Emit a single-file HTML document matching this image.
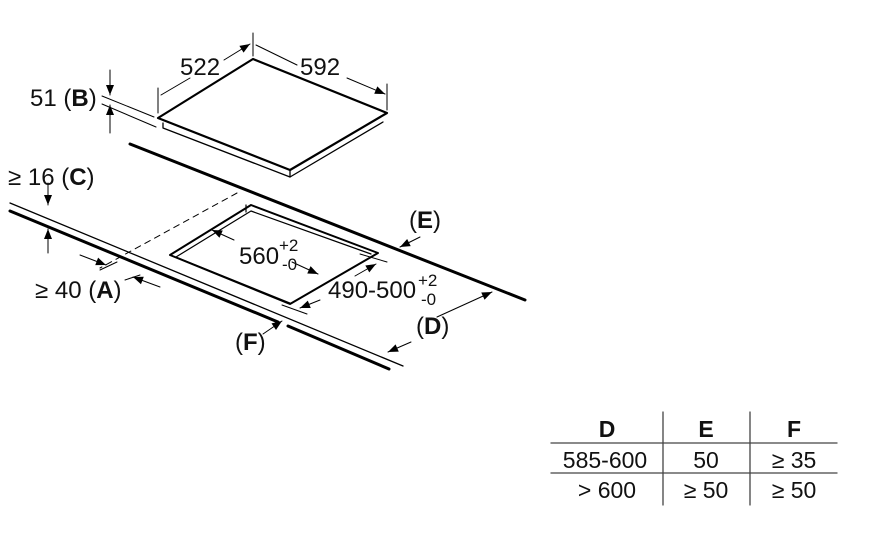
<!DOCTYPE html>
<html><head><meta charset="utf-8"><style>
html,body{margin:0;padding:0;background:#fff;width:889px;height:551px;overflow:hidden}
svg{display:block;font-family:"Liberation Sans",Arial,sans-serif}
</style></head><body>
<svg width="889" height="551" viewBox="0 0 889 551" xmlns="http://www.w3.org/2000/svg">
<defs>
<marker id="ar" viewBox="0 0 10 10" refX="10" refY="5" markerWidth="12" markerHeight="10" orient="auto-start-reverse" markerUnits="userSpaceOnUse"><path d="M0,1 L10,5 L0,9 z" fill="#000"/></marker>
</defs>
<g stroke="#000" fill="none" stroke-linecap="round" stroke-linejoin="round">
<path d="M158,118 L253,59 L387,113 L290,170 Z" fill="#fff" stroke-width="2.2"/>
<path d="M163,123 L163,128 L290,177 L383,122" stroke-width="1.3"/>
<path d="M290,170 L290,177" stroke-width="1.3"/>
<path d="M158,88 L158,113 M253,33 L253,56 M387,84 L387,110" stroke-width="1"/>
<path d="M190,78 L161,95 M224,60 L250,44" stroke-width="1" marker-end="url(#ar)"/>
<path d="M297,65 L256,45 M347,78 L385,94" stroke-width="1" marker-end="url(#ar)"/>
<path d="M102,96 L154,117 M102,104 L156,127" stroke-width="1"/>
<path d="M110,70 L110,95" stroke-width="1" marker-end="url(#ar)"/>
<path d="M110,133 L110,105" stroke-width="1" marker-end="url(#ar)"/>
<path d="M130,144 L525,300" stroke-width="3"/>
<path d="M10,203 L403,366" stroke-width="1.3"/>
<path d="M10,211 L278,322 M288,326 L389,369" stroke-width="3"/>
<path d="M48,183 L48,205" stroke-width="1" marker-end="url(#ar)"/>
<path d="M48,253 L48,229" stroke-width="1" marker-end="url(#ar)"/>
<path d="M237,193 L100,268" stroke-width="1" stroke-dasharray="6,5"/>
<path d="M170,255 L251,205 L378,253 L290,304 Z" stroke-width="2"/>
<path d="M176,257 L251,211 L371,254 M176,257 L290,303" stroke-width="1.2"/>
<path d="M246,205 L246,212" stroke-width="1.2"/>
<path d="M234,240 L212,230" stroke-width="1" marker-end="url(#ar)"/>
<path d="M292,262 L318,274" stroke-width="1" marker-end="url(#ar)"/>
<path d="M360,254 L387,262 M282,305 L307,314" stroke-width="1"/>
<path d="M355,276 L376,264" stroke-width="1" marker-end="url(#ar)"/>
<path d="M320,300 L300,308" stroke-width="1" marker-end="url(#ar)"/>
<path d="M80,255 L106,265" stroke-width="1" marker-end="url(#ar)"/>
<path d="M160,287 L133,277" stroke-width="1" marker-end="url(#ar)"/>
<path d="M100,270 L117,262 M125,280 L140,275" stroke-width="1"/>
<path d="M420,237 L400,247" stroke-width="1" marker-end="url(#ar)"/>
<path d="M437,317 L492,292" stroke-width="1" marker-end="url(#ar)"/>
<path d="M411,342 L388,352" stroke-width="1" marker-end="url(#ar)"/>
<path d="M263,334 L282,321" stroke-width="1" marker-end="url(#ar)"/>
<path d="M551,443 L837,443 M551,473 L837,473" stroke="#444" stroke-width="1.3"/>
<path d="M663,412 L663,505 M750,412 L750,505" stroke="#444" stroke-width="1.3"/>
</g>
<g font-size="24" fill="#111">
<text x="180" y="75">522</text>
<text x="300" y="75">592</text>
<text x="30" y="106">51 (<tspan font-weight="bold">B</tspan>)</text>
<text x="8" y="185">≥ 16 (<tspan font-weight="bold">C</tspan>)</text>
<text x="35" y="298">≥ 40 (<tspan font-weight="bold">A</tspan>)</text>
<text x="239" y="264">560</text>
<text x="279" y="251" font-size="17">+2</text>
<text x="282" y="270" font-size="17">-0</text>
<text x="328" y="298">490-500</text>
<text x="418" y="286" font-size="17">+2</text>
<text x="421" y="305" font-size="17">-0</text>
<text x="409" y="228">(<tspan font-weight="bold">E</tspan>)</text>
<text x="416" y="334">(<tspan font-weight="bold">D</tspan>)</text>
<text x="235" y="350">(<tspan font-weight="bold">F</tspan>)</text>
</g>
<g font-size="23" text-anchor="middle" fill="#111">
<text x="607" y="437" font-weight="bold">D</text>
<text x="706" y="437" font-weight="bold">E</text>
<text x="794" y="437" font-weight="bold">F</text>
<text x="605" y="468">585-600</text>
<text x="706" y="468">50</text>
<text x="794" y="468">≥ 35</text>
<text x="607" y="498">&gt; 600</text>
<text x="706" y="498">≥ 50</text>
<text x="794" y="498">≥ 50</text>
</g>
</svg>
</body></html>
